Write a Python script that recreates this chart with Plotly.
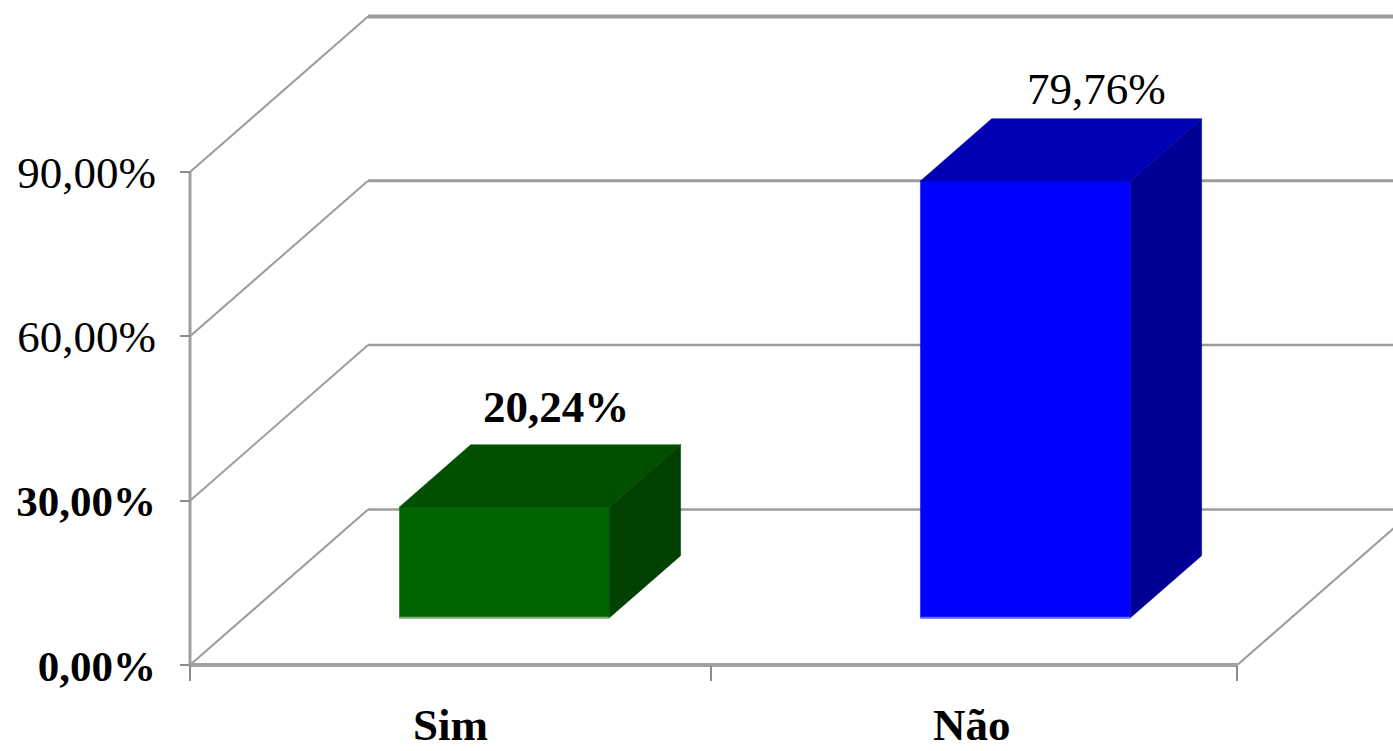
import plotly.graph_objects as go

categories = ["Sim", "Não"]
values = [20.24, 79.76]
value_labels = ["20,24%", "79,76%"]
y_ticks = [0, 30, 60, 90]
y_tick_labels = [
    '<span style="font-size:43px"><b>0,00%</b></span>',
    '<span style="font-size:43px"><b>30,00%</b></span>',
    "60,00%",
    "90,00%",
]
x_edges = [-0.5, 0.5, 1.51]

# oblique projection of the chart's depth, in axis units
DEPTH_X = 0.3417
DEPTH_Y = 28.4
BAR_FRONT = 0.303
BAR_BACK = 0.703
BAR_HALF = 0.2015

# the plot area fills the page so the depth can run past the axes
WIDTH, HEIGHT = 1393, 751
AXIS_LEFT_PX, AXIS_BOTTOM_PX = 190, 665
X_UNIT_PX, Y_UNIT_PX = 521, 5.478
x_range = [x_edges[0] - AXIS_LEFT_PX / X_UNIT_PX, x_edges[0] + (WIDTH - AXIS_LEFT_PX) / X_UNIT_PX]
y_range = [-(HEIGHT - AXIS_BOTTOM_PX) / Y_UNIT_PX, AXIS_BOTTOM_PX / Y_UNIT_PX]

FONT = "Liberation Serif"
GRID = "#9c9c9c"
face_colors = [
    {"front": "#006400", "top": "#005000", "side": "#004000", "edge": "#7fb27f"},
    {"front": "#0000ff", "top": "#0000b4", "side": "#000096", "edge": "#6a6aff"},
]


def project(x, v, d):
    return x + d * DEPTH_X, v + d * DEPTH_Y


def poly(points, color):
    xs, ys = zip(*points)
    return go.Scatter(
        x=list(xs) + [xs[0]], y=list(ys) + [ys[0]], mode="lines", fill="toself",
        fillcolor=color, line=dict(color=color, width=0.5), hoverinfo="skip", showlegend=False,
    )


def line(points, width, color=GRID):
    xs, ys = zip(*points)
    return go.Scatter(
        x=list(xs), y=list(ys), mode="lines", line=dict(color=color, width=width),
        hoverinfo="skip", showlegend=False,
    )


fig = go.Figure()

x0, x1 = x_edges[0], x_edges[-1]
for t in y_ticks:
    width = 4 if t == 90 else 3 if t == 60 else 2.5
    fig.add_trace(line([project(x0, t, 0), project(x0, t, 1)], 2))
    fig.add_trace(line([project(x0, t, 1), project(x1, t, 1)], width))
fig.add_trace(line([project(x1, 0, 0), project(x1, 0, 1)], 2))
fig.add_trace(line([(x0, 0), (x0, y_ticks[-1])], 3, "#a0a0a0"))
fig.add_trace(line([(x0, 0), (x1, 0)], 4, "#a0a0a0"))

for i, v in enumerate(values):
    l, r = i - BAR_HALF, i + BAR_HALF
    c = face_colors[i]
    fig.add_trace(poly([project(l, 0, BAR_FRONT), project(r, 0, BAR_FRONT),
                        project(r, v, BAR_FRONT), project(l, v, BAR_FRONT)], c["front"]))
    fig.add_trace(poly([project(l, v, BAR_FRONT), project(r, v, BAR_FRONT),
                        project(r, v, BAR_BACK), project(l, v, BAR_BACK)], c["top"]))
    fig.add_trace(poly([project(r, 0, BAR_FRONT), project(r, 0, BAR_BACK),
                        project(r, v, BAR_BACK), project(r, v, BAR_FRONT)], c["side"]))
    fig.add_trace(line([project(l, 0, BAR_FRONT), project(r, 0, BAR_FRONT)], 2, c["edge"]))

label_shift = [-20, 0]
label_lift = [11, 3]
label_weight = ["bold", "normal"]
for i, v in enumerate(values):
    ax, ay = project(i, v, BAR_BACK)
    fig.add_annotation(
        x=ax, y=ay, text=value_labels[i], showarrow=False, xshift=label_shift[i], yanchor="bottom",
        yshift=label_lift[i], font=dict(family=FONT, size=45, color="#000000", weight=label_weight[i]),
    )

for i, name in enumerate(categories):
    fig.add_annotation(
        x=i, y=0, text=f"<b>{name}</b>", showarrow=False, yanchor="top", yshift=-33,
        font=dict(family=FONT, size=45, color="#000000"),
    )

fig.update_layout(
    width=WIDTH, height=HEIGHT, autosize=False,
    margin=dict(l=0, r=0, t=0, b=0, pad=0),
    paper_bgcolor="#ffffff", plot_bgcolor="#ffffff", showlegend=False,
    font=dict(family=FONT, color="#000000"),
    xaxis=dict(
        range=x_range, domain=[0, 1], anchor="free", position=(HEIGHT - AXIS_BOTTOM_PX) / HEIGHT,
        tickmode="array", tickvals=x_edges, ticktext=["", "", ""],
        ticks="outside", ticklen=15, tickwidth=2, tickcolor="#8c8c8c",
        showline=False, showgrid=False, zeroline=False, fixedrange=True,
    ),
    yaxis=dict(
        range=y_range, domain=[0, 1], anchor="free", position=AXIS_LEFT_PX / WIDTH,
        tickmode="array", tickvals=y_ticks, ticktext=y_tick_labels,
        ticks="outside", ticklen=10, tickwidth=2, tickcolor="#8c8c8c",
        showline=False, showgrid=False, zeroline=False,
        tickfont=dict(family=FONT, size=45, color="#000000"), ticklabelstandoff=15,
        fixedrange=True,
    ),
)

fig.write_html("out.html", post_script="document.body.style.margin='0';", config={"displayModeBar": False})
